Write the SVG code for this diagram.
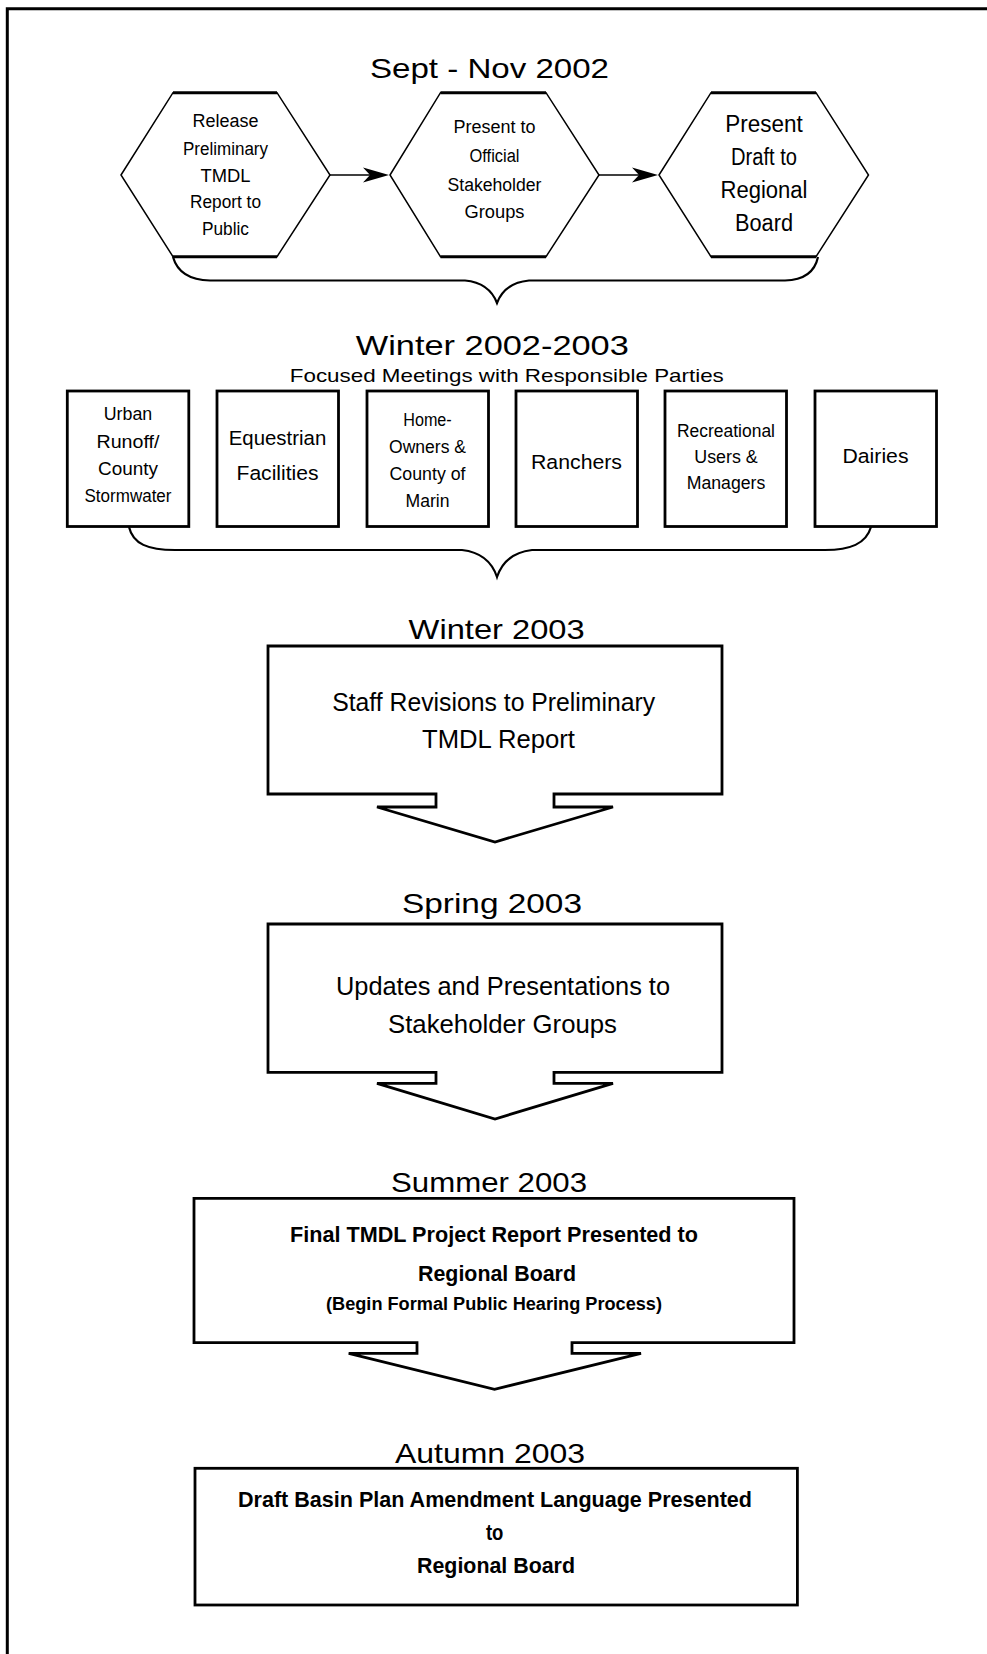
<svg xmlns="http://www.w3.org/2000/svg" width="987" height="1654" viewBox="0 0 987 1654">
<style>
.t{font-family:"Liberation Sans",Arial,sans-serif;text-anchor:middle;fill:#000}
.b{font-weight:bold}
.shape{fill:#fff;stroke:#000;stroke-width:2.8;stroke-linejoin:miter}
.hex{fill:#fff;stroke:#000;stroke-width:1.5}
.edge{stroke:#000;stroke-width:3;fill:none}
.conn{stroke:#000;stroke-width:1.6;fill:none}
.brace{stroke:#000;stroke-width:2.2;fill:none}
</style>
<rect x="0" y="0" width="987" height="1654" fill="#fff"/>
<path d="M7.3,1654 V8.7 H987" fill="none" stroke="#000" stroke-width="3"/>

<g id="title1"><text class="t" x="489.5" y="78.3" font-size="28" textLength="239" lengthAdjust="spacingAndGlyphs">Sept - Nov 2002</text></g>

<g id="hex1">
<polygon class="hex" points="121,175 173,92.7 277,92.7 330,175 277,256.7 173,256.7"/>
<line class="edge" x1="173" y1="92.7" x2="277" y2="92.7"/><line class="edge" x1="173" y1="256.7" x2="277" y2="256.7"/>
<text class="t" font-size="18"><tspan x="225.5" y="126.7" textLength="66" lengthAdjust="spacingAndGlyphs">Release</tspan><tspan x="225.5" y="155" textLength="85" lengthAdjust="spacingAndGlyphs">Preliminary</tspan><tspan x="225.5" y="181.7" textLength="50" lengthAdjust="spacingAndGlyphs">TMDL</tspan><tspan x="225.5" y="208.3" textLength="71" lengthAdjust="spacingAndGlyphs">Report to</tspan><tspan x="225.5" y="235" textLength="47" lengthAdjust="spacingAndGlyphs">Public</tspan></text>
</g>
<g id="hex2">
<polygon class="hex" points="390,175 440.5,92.7 546,92.7 599,175 546,256.7 440.5,256.7"/>
<line class="edge" x1="440.5" y1="92.7" x2="546" y2="92.7"/><line class="edge" x1="440.5" y1="256.7" x2="546" y2="256.7"/>
<text class="t" font-size="18"><tspan x="494.5" y="133.3" textLength="82" lengthAdjust="spacingAndGlyphs">Present to</tspan><tspan x="494.5" y="162" textLength="50" lengthAdjust="spacingAndGlyphs">Official</tspan><tspan x="494.5" y="191" textLength="94" lengthAdjust="spacingAndGlyphs">Stakeholder</tspan><tspan x="494.5" y="218.3" textLength="60" lengthAdjust="spacingAndGlyphs">Groups</tspan></text>
</g>
<g id="hex3">
<polygon class="hex" points="659,175 711,92.7 816,92.7 868.5,175 816,256.7 711,256.7"/>
<line class="edge" x1="711" y1="92.7" x2="816" y2="92.7"/><line class="edge" x1="711" y1="256.7" x2="816" y2="256.7"/>
<text class="t" font-size="23"><tspan x="764" y="131.7" textLength="77.5" lengthAdjust="spacingAndGlyphs">Present</tspan><tspan x="764" y="165" textLength="66" lengthAdjust="spacingAndGlyphs">Draft to</tspan><tspan x="764" y="198.3" textLength="87" lengthAdjust="spacingAndGlyphs">Regional</tspan><tspan x="764" y="231" textLength="58" lengthAdjust="spacingAndGlyphs">Board</tspan></text>
</g>

<g id="title2">
<text class="t" x="492.3" y="355" font-size="28" textLength="273" lengthAdjust="spacingAndGlyphs">Winter 2002-2003</text>
<text class="t" x="506.8" y="381.7" font-size="18.5" textLength="434" lengthAdjust="spacingAndGlyphs">Focused Meetings with Responsible Parties</text>
</g>

<g id="box-urban"><rect class="shape" x="67.3" y="391" width="121.5" height="135.5"/>
<text class="t" font-size="17.5"><tspan x="128" y="420" textLength="48.5" lengthAdjust="spacingAndGlyphs">Urban</tspan><tspan x="128" y="448.3" textLength="63" lengthAdjust="spacingAndGlyphs">Runoff/</tspan><tspan x="128" y="475" textLength="60" lengthAdjust="spacingAndGlyphs">County</tspan><tspan x="128" y="501.7" textLength="87" lengthAdjust="spacingAndGlyphs">Stormwater</tspan></text></g>
<g id="box-equestrian"><rect class="shape" x="217" y="391" width="121.5" height="135.5"/>
<text class="t" font-size="20.5"><tspan x="277.5" y="445" textLength="97.5" lengthAdjust="spacingAndGlyphs">Equestrian</tspan><tspan x="277.5" y="480" textLength="82" lengthAdjust="spacingAndGlyphs">Facilities</tspan></text></g>
<g id="box-homeowners"><rect class="shape" x="367" y="391" width="121.5" height="135.5"/>
<text class="t" font-size="17.5"><tspan x="427.5" y="426" textLength="48.5" lengthAdjust="spacingAndGlyphs">Home-</tspan><tspan x="427.5" y="453.3" textLength="77" lengthAdjust="spacingAndGlyphs">Owners &amp;</tspan><tspan x="427.5" y="480" textLength="76" lengthAdjust="spacingAndGlyphs">County of</tspan><tspan x="427.5" y="506.7" textLength="44" lengthAdjust="spacingAndGlyphs">Marin</tspan></text></g>
<g id="box-ranchers"><rect class="shape" x="516" y="391" width="121.5" height="135.5"/>
<text class="t" font-size="20.5" x="576.5" y="469.3" textLength="91" lengthAdjust="spacingAndGlyphs">Ranchers</text></g>
<g id="box-recreational"><rect class="shape" x="665" y="391" width="121.5" height="135.5"/>
<text class="t" font-size="17.5"><tspan x="726" y="436.7" textLength="98" lengthAdjust="spacingAndGlyphs">Recreational</tspan><tspan x="726" y="463.3" textLength="63.5" lengthAdjust="spacingAndGlyphs">Users &amp;</tspan><tspan x="726" y="489.3" textLength="78.6" lengthAdjust="spacingAndGlyphs">Managers</tspan></text></g>
<g id="box-dairies"><rect class="shape" x="815" y="391" width="121.5" height="135.5"/>
<text class="t" font-size="20.5" x="875.5" y="463.3" textLength="66" lengthAdjust="spacingAndGlyphs">Dairies</text></g>

<g id="step-winter2003">
<text class="t" x="496.6" y="639.3" font-size="28" textLength="176" lengthAdjust="spacingAndGlyphs">Winter 2003</text>
<polygon class="shape" points="268,646 722,646 722,794 554,794 554,807 613,807 495,842 377,807 436,807 436,794 268,794"/>
<text class="t" font-size="26.5"><tspan x="493.7" y="710.7" textLength="323" lengthAdjust="spacingAndGlyphs">Staff Revisions to Preliminary</tspan><tspan x="498.5" y="748.3" textLength="153" lengthAdjust="spacingAndGlyphs">TMDL Report</tspan></text>
</g>

<g id="step-spring2003">
<text class="t" x="492" y="913.3" font-size="28" textLength="180" lengthAdjust="spacingAndGlyphs">Spring 2003</text>
<polygon class="shape" points="268,924 722,924 722,1072.3 554,1072.3 554,1083.3 613,1083.3 495,1119 377,1083.3 436,1083.3 436,1072.3 268,1072.3"/>
<text class="t" font-size="26.5"><tspan x="503" y="995" textLength="334" lengthAdjust="spacingAndGlyphs">Updates and Presentations to</tspan><tspan x="502.5" y="1033.3" textLength="229" lengthAdjust="spacingAndGlyphs">Stakeholder Groups</tspan></text>
</g>

<g id="step-summer2003">
<text class="t" x="489" y="1192.3" font-size="28" textLength="196" lengthAdjust="spacingAndGlyphs">Summer 2003</text>
<polygon class="shape" points="194,1198.3 794,1198.3 794,1342.7 572,1342.7 572,1353.3 641,1353.3 494.5,1389.3 348.7,1353.3 417,1353.3 417,1342.7 194,1342.7"/>
<text class="t b" font-size="22.5"><tspan x="494" y="1241.7" textLength="408" lengthAdjust="spacingAndGlyphs">Final TMDL Project Report Presented to</tspan><tspan x="497" y="1280.7" textLength="158" lengthAdjust="spacingAndGlyphs">Regional Board</tspan></text>
<text class="t b" font-size="17.5" x="494" y="1310" textLength="336" lengthAdjust="spacingAndGlyphs">(Begin Formal Public Hearing Process)</text>
</g>

<g id="step-autumn2003">
<text class="t" x="490" y="1463.3" font-size="28" textLength="190" lengthAdjust="spacingAndGlyphs">Autumn 2003</text>
<rect class="shape" x="195" y="1468.3" width="602.4" height="136.7"/>
<text class="t b" font-size="22.5"><tspan x="495" y="1507.3" textLength="514" lengthAdjust="spacingAndGlyphs">Draft Basin Plan Amendment Language Presented</tspan><tspan x="494.7" y="1540" textLength="17.5" lengthAdjust="spacingAndGlyphs">to</tspan><tspan x="496" y="1573.3" textLength="158" lengthAdjust="spacingAndGlyphs">Regional Board</tspan></text>
</g>

<g id="connectors">
<line class="conn" x1="330" y1="175" x2="372" y2="175"/>
<polygon points="389,175 363,167.5 370,175 363,182.5" fill="#000"/>
<line class="conn" x1="599" y1="175" x2="641" y2="175"/>
<polygon points="658,175 632,167.5 639,175 632,182.5" fill="#000"/>
<path class="brace" d="M173,257 C177,271 188,280 210,280.5 L465,280.5 C481,282 492,290 497,303 C502,290 513,282 529,280.5 L785,280.5 C806,280 815,271 818,257"/>
<path class="brace" d="M129,527 C133,544 148,550 175,550 L462,550 C480,552 492,562 497,577 C502,562 514,552 532,550 L825,550 C850,550 866,544 871,527"/>
</g>
</svg>
